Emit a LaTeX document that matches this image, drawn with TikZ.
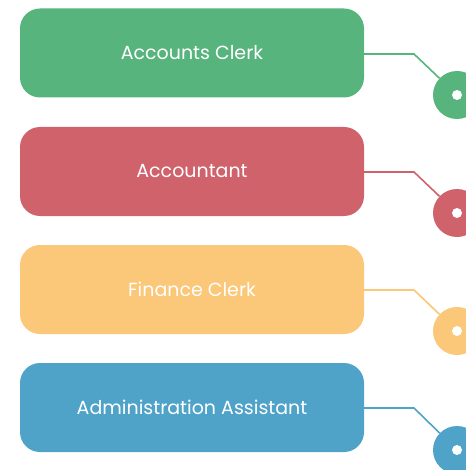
\documentclass[tikz,border=0pt]{standalone}
\usepackage{fontspec}
\setmainfont{Poppins}
\usetikzlibrary{calc}

\definecolor{clerkgreen}{HTML}{58B47D}
\definecolor{acctred}{HTML}{D0626B}
\definecolor{finyellow}{HTML}{FBC778}
\definecolor{adminblue}{HTML}{4FA3C8}

\tikzset{
  rolebox/.style={fill=#1, rounded corners=20pt, minimum width=344pt, minimum height=89pt, inner sep=0pt, text=white, font=\fontsize{19}{22}\selectfont},
  roledot/.style={circle, fill=#1, minimum size=48pt, inner sep=0pt},
  rolehole/.style={circle, fill=white, minimum size=10pt, inner sep=0pt},
  roleline/.style={draw=#1, line width=1.6pt},
}

\begin{document}
\begin{tikzpicture}[x=1pt,y=1pt,yscale=-1,xscale=1]
        \useasboundingbox (0,0) rectangle (465,470);

        % Boxes
        \node [rolebox=clerkgreen] (clerk) at (192,53) {Accounts Clerk};
        \node [rolebox=acctred] (accountant) at (192,171.5) {Accountant};
        \node [rolebox=finyellow] (finance) at (192,289.5) {Finance Clerk};
        \node [rolebox=adminblue] (admin) at (192,407.5) {Administration Assistant};

        % Dots
        \node [roledot=clerkgreen] (clerkdot) at (457,95) {};
        \node [roledot=acctred] (accountantdot) at (457,213) {};
        \node [roledot=finyellow] (financedot) at (457,331) {};
        \node [roledot=adminblue] (admindot) at (457,450) {};
        \foreach \n in {clerkdot,accountantdot,financedot,admindot}
          \node [rolehole] at (\n) {};

        % Connectors
        \coordinate (clerkknee) at (414,54);
        \coordinate (accountantknee) at (414,172);
        \coordinate (financeknee) at (414,290);
        \coordinate (adminknee) at (414,408);
        \draw [roleline=clerkgreen] (clerk.east |- clerkknee) -- (clerkknee) -- (clerkdot);
        \draw [roleline=acctred] (accountant.east |- accountantknee) -- (accountantknee) -- (accountantdot);
        \draw [roleline=finyellow] (finance.east |- financeknee) -- (financeknee) -- (financedot);
        \draw [roleline=adminblue] (admin.east |- adminknee) -- (adminknee) -- (admindot);
\end{tikzpicture}
\end{document}
